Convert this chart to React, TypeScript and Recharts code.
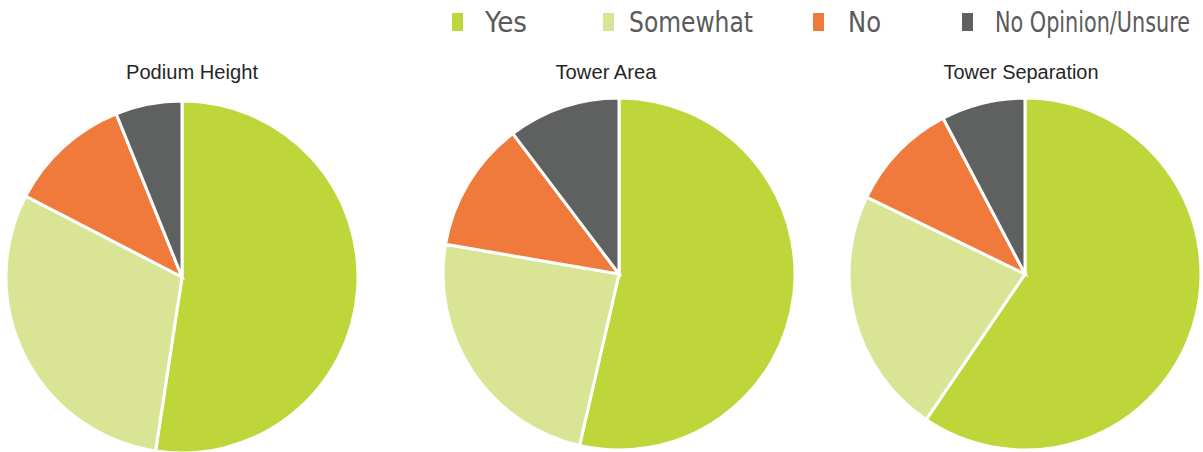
import { Cell, Pie, PieChart } from "recharts"

const categories = ["Yes", "Somewhat", "No", "No Opinion/Unsure"]
const colors = ["#BFD63A", "#D9E594", "#F07A3C", "#5F6060"]
const titles = ["Podium Height", "Tower Area", "Tower Separation"]
const podiumHeight = [52.4, 30.2, 11.3, 6.1]
const towerArea = [53.6, 24.1, 12.0, 10.3]
const towerSeparation = [59.5, 22.7, 10.1, 7.7]

const series = [podiumHeight, towerArea, towerSeparation]
const centers = [
    { cx: 182, cy: 277, tx: 192, tw: 132 },
    { cx: 619, cy: 274, tx: 606, tw: 101 },
    { cx: 1025, cy: 274, tx: 1021, tw: 155 },
]
// legend layout: square x, text x, text width
const legendPos = [
    { sx: 452, tx: 485, tw: 42 },
    { sx: 603, tx: 629, tw: 124 },
    { sx: 813, tx: 848, tw: 33 },
    { sx: 962, tx: 995, tw: 195 },
]

function toData(values: number[]) {
    return values.map((v, i) => ({ name: categories[i], value: v }))
}

function Overlay() {
    return (
        <svg width={1203} height={452} style={{ position: 'absolute', left: 0, top: 0, pointerEvents: 'none' }}>
            {categories.map((c, i) => (
                <g key={c}>
                    <rect x={legendPos[i].sx} y={13} width={11} height={18} fill={colors[i]} />
                    <text
                        x={legendPos[i].tx} y={32}
                        textLength={legendPos[i].tw} lengthAdjust="spacingAndGlyphs"
                        fontFamily='"DejaVu Sans Condensed", sans-serif'
                        fontSize={28} fill="#5a5a5a"
                    >{c}</text>
                </g>
            ))}
            {titles.map((t, k) => (
                <text
                    key={t}
                    x={centers[k].tx - centers[k].tw / 2} y={79}
                    textLength={centers[k].tw} lengthAdjust="spacingAndGlyphs"
                    fontFamily='"Liberation Sans", Arial, sans-serif'
                    fontSize={19.5} fill="#262626"
                >{t}</text>
            ))}
        </svg>
    )
}

export default function App() {
    return (
        <div style={{ position: 'absolute', left: 0, top: 0, width: 1203, height: 452 }}>
            <PieChart width={1203} height={452} margin={{ top: 0, right: 0, bottom: 0, left: 0 }}>
                {series.map((s, k) => (
                    <Pie
                        key={titles[k]}
                        data={toData(s)}
                        dataKey="value"
                        nameKey="name"
                        cx={centers[k].cx}
                        cy={centers[k].cy}
                        outerRadius={176}
                        startAngle={90}
                        endAngle={-270}
                        stroke="#ffffff"
                        strokeWidth={3}
                        isAnimationActive={false}
                    >
                        {s.map((_, i) => <Cell key={i} fill={colors[i]} />)}
                    </Pie>
                ))}
            </PieChart>
            <Overlay />
        </div>
    )
}
